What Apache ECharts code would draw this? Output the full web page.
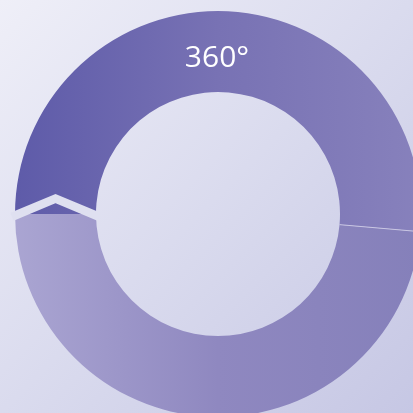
<!DOCTYPE html>
<html>
<head>
<meta charset="utf-8">
<script src="https://cdn.jsdelivr.net/npm/echarts@6/dist/echarts.min.js"></script>
<style>
  html, body { margin: 0; padding: 0; }
  #chart { width: 413px; height: 413px; }
</style>
</head>
<body>
<div id="chart"></div>
<script>
// Data
const categories = ['Segment A', 'Segment B'];
const values = [185, 175];
const centerLabel = '360°';

// Layout constants
const CX = 218, CY = 214, R_IN = 122, R_OUT = 203;

const chart = echarts.init(document.getElementById('chart'), null, { renderer: 'canvas' });

const gradients = [
  new echarts.graphic.LinearGradient(0, 0, 1, 0, [
    { offset: 0, color: '#5e5ba9' },
    { offset: 0.5, color: '#7872b4' },
    { offset: 1, color: '#8781bc' }
  ]),
  new echarts.graphic.LinearGradient(0, 0, 1, 0, [
    { offset: 0, color: '#aaa5d2' },
    { offset: 0.5, color: '#8f88c0' },
    { offset: 1, color: '#8580ba' }
  ])
];

const total = values.reduce((a, b) => a + b, 0);
const sepAngle = (180 - values[0] / total * 360) * Math.PI / 180; // radians, ccw from 3 o'clock
const midR = (R_IN + R_OUT) / 2;

chart.setOption({
  animation: false,
  backgroundColor: new echarts.graphic.LinearGradient(0, 0, 1, 1, [
    { offset: 0, color: '#efeff8' },
    { offset: 0.5, color: '#dadbee' },
    { offset: 1, color: '#c6c7e4' }
  ]),
  series: [{
    type: 'pie',
    center: [CX, CY],
    radius: [R_IN, R_OUT],
    startAngle: 180,
    clockwise: true,
    label: { show: false },
    labelLine: { show: false },
    emphasis: { disabled: true },
    data: categories.map((c, i) => ({
      name: c,
      value: values[i],
      itemStyle: { color: gradients[i], borderWidth: 0 }
    }))
  }],
  graphic: [
    {
      type: 'polyline',
      z: 100,
      shape: {
        points: [
          [CX - R_OUT - 3, CY + 1.5 + 3 * 17 / 41],
          [CX - midR, CY - 15.5],
          [CX - R_IN + 3, CY + 1.5 + 3 * 17 / 41]
        ]
      },
      style: { stroke: '#dfe0f0', lineWidth: 8.5, fill: null, lineJoin: 'miter' }
    },
    {
      type: 'line',
      z: 100,
      shape: {
        x1: CX + R_IN * Math.cos(sepAngle), y1: CY - R_IN * Math.sin(sepAngle),
        x2: CX + (R_OUT + 5) * Math.cos(sepAngle), y2: CY - (R_OUT + 5) * Math.sin(sepAngle)
      },
      style: { stroke: '#c9c6e3', lineWidth: 1 }
    },
    {
      type: 'text',
      z: 100,
      x: CX - 1,
      y: 58.5,
      style: {
        text: centerLabel,
        fill: '#ffffff',
        font: '30px "Open Sans", sans-serif',
        align: 'center',
        verticalAlign: 'middle'
      }
    }
  ]
});
</script>
</body>
</html>
